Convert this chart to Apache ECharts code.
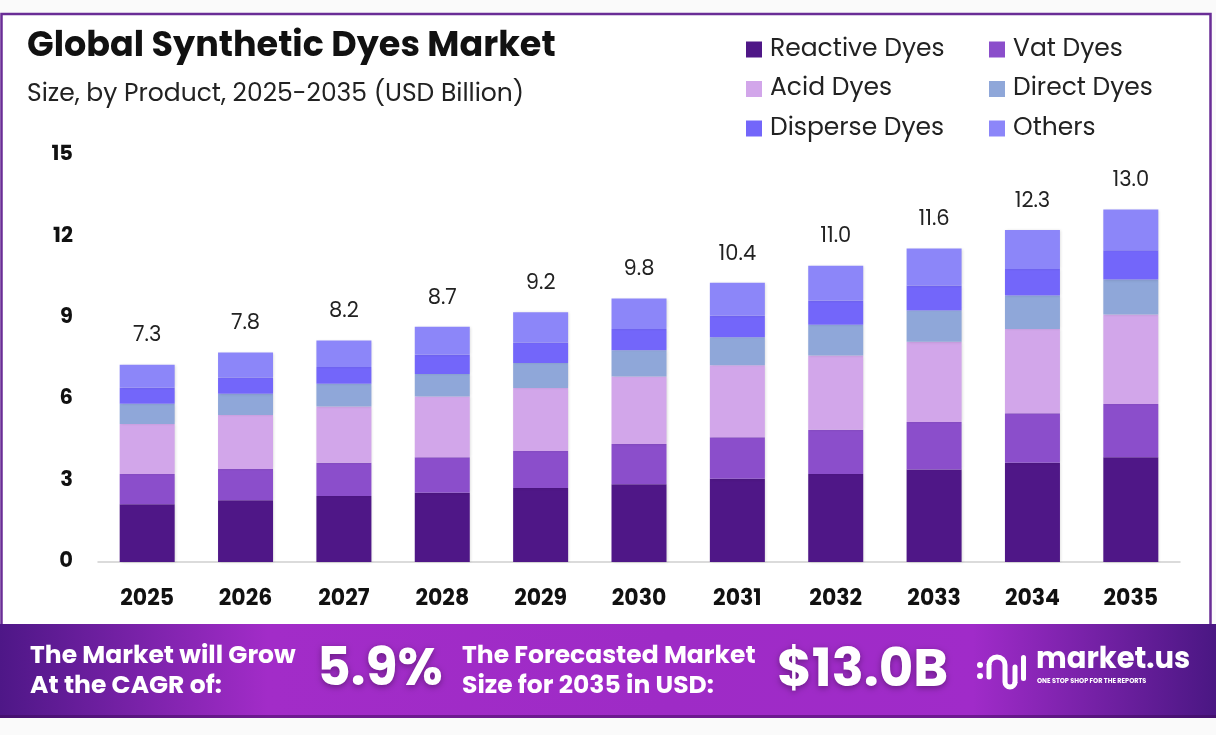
<!DOCTYPE html>
<html>
<head>
<meta charset="utf-8">
<script src="https://cdn.jsdelivr.net/npm/echarts@6/dist/echarts.min.js"></script>
<style>
html,body{margin:0;padding:0;background:#fafafa;}
#chart{width:1216px;height:735px;}
</style>
</head>
<body>
<div id="chart"></div>
<script>
const years = ['2025','2026','2027','2028','2029','2030','2031','2032','2033','2034','2035'];
const seriesNames = ['Reactive Dyes','Vat Dyes','Acid Dyes','Direct Dyes','Disperse Dyes','Others'];
const reactive = [2.13, 2.28, 2.43, 2.55, 2.73, 2.87, 3.07, 3.24, 3.41, 3.66, 3.86];
const vat      = [1.11, 1.15, 1.23, 1.31, 1.36, 1.48, 1.53, 1.63, 1.75, 1.82, 1.96];
const acid     = [1.85, 1.99, 2.07, 2.24, 2.32, 2.49, 2.65, 2.74, 2.96, 3.11, 3.30];
const direct   = [0.74, 0.78, 0.84, 0.83, 0.92, 0.96, 1.03, 1.13, 1.15, 1.23, 1.29];
const disperse = [0.59, 0.60, 0.62, 0.71, 0.76, 0.79, 0.80, 0.89, 0.92, 0.98, 1.08];
const others   = [0.85, 0.92, 0.97, 1.03, 1.11, 1.12, 1.21, 1.29, 1.36, 1.44, 1.50];
const totals   = ['7.3','7.8','8.2','8.7','9.2','9.8','10.4','11.0','11.6','12.3','13.0'];
const yTicks   = [0, 3, 6, 9, 12, 15];
const colors = ['#4f1787','#8b4ecb','#d2a6ea','#8fa7d9','#7366fa','#8c86f9'];
const seriesData = [reactive, vat, acid, direct, disperse, others];

const FONT = 'Poppins, Inter, "Open Sans", sans-serif';
const chart = echarts.init(document.getElementById('chart'));

const series = seriesNames.map((name, i) => ({
  name: name,
  type: 'bar',
  stack: 'total',
  barWidth: 55,
  data: seriesData[i],
  itemStyle: { color: colors[i], shadowBlur: 3, shadowColor: 'rgba(0,0,0,0.15)', shadowOffsetX: 1 },
  label: i === seriesNames.length - 1 ? {
    show: true,
    position: 'top',
    distance: 18,
    fontFamily: FONT,
    fontSize: 21,
    color: '#222',
    formatter: p => totals[p.dataIndex]
  } : { show: false }
}));

const W = '#ffffff';
const option = {
  animation: false,
  backgroundColor: '#fafafa',
  textStyle: { fontFamily: FONT },
  graphic: [
    { type: 'rect', z: -10, shape: { x: 1.5, y: 14, width: 1209, height: 612 },
      style: { fill: '#ffffff', stroke: '#6a2d96', lineWidth: 2.5 } },
    { type: 'rect', z: 10, shape: { x: 0, y: 624, width: 1216, height: 94 },
      style: { fill: new echarts.graphic.LinearGradient(0, 0, 1, 0, [
        { offset: 0, color: '#4e1787' },
        { offset: 0.22, color: '#a22cc8' },
        { offset: 0.55, color: '#9e2bc6' },
        { offset: 0.8, color: '#a02bc9' },
        { offset: 1, color: '#4a1783' }
      ]) } },
    { type: 'rect', z: 11, shape: { x: 0, y: 715, width: 1216, height: 3 },
      style: { fill: 'rgba(60,10,90,0.5)' } },
    { type: 'text', z: 12, x: 30, y: 642,
      style: { text: 'The Market will Grow\nAt the CAGR of:', fill: W, font: 'bold 25px ' + FONT, lineHeight: 30 } },
    { type: 'text', z: 12, x: 317, y: 646,
      style: { text: '5.9%', fill: W, font: 'bold 52px ' + FONT, textShadowBlur: 6, textShadowColor: 'rgba(0,0,0,0.35)', textShadowOffsetY: 2 } },
    { type: 'text', z: 12, x: 462, y: 642,
      style: { text: 'The Forecasted Market\nSize for 2035 in USD:', fill: W, font: 'bold 25px ' + FONT, lineHeight: 30 } },
    { type: 'text', z: 12, x: 777, y: 646,
      style: { text: '$13.0B', fill: W, font: 'bold 53px ' + FONT, textShadowBlur: 6, textShadowColor: 'rgba(0,0,0,0.35)', textShadowOffsetY: 2 } },
    // logo icon
    { type: 'circle', z: 12, shape: { cx: 980, cy: 665, r: 3 }, style: { fill: W } },
    { type: 'circle', z: 12, shape: { cx: 980, cy: 676, r: 3 }, style: { fill: W } },
    { type: 'line', z: 12, shape: { x1: 989, y1: 677, x2: 989, y2: 665 }, style: { stroke: W, lineWidth: 5, lineCap: 'round' } },
    { type: 'arc', z: 12, shape: { cx: 997, cy: 665, r: 8, startAngle: Math.PI, endAngle: 2 * Math.PI }, style: { stroke: W, lineWidth: 5, fill: null } },
    { type: 'line', z: 12, shape: { x1: 1005, y1: 665, x2: 1005, y2: 682 }, style: { stroke: W, lineWidth: 5 } },
    { type: 'arc', z: 12, shape: { cx: 1010, cy: 682, r: 5, startAngle: 0, endAngle: Math.PI, clockwise: true }, style: { stroke: W, lineWidth: 5, fill: null } },
    { type: 'line', z: 12, shape: { x1: 1015, y1: 682, x2: 1015, y2: 667 }, style: { stroke: W, lineWidth: 5, lineCap: 'round' } },
    { type: 'rect', z: 12, shape: { x: 1021, y: 655, width: 5, height: 26, r: 2.5 }, style: { fill: W } },
    { type: 'text', z: 12, x: 1036, y: 646,
      style: { text: 'market.us', fill: W, font: 'bold 29px ' + FONT } },
    { type: 'text', z: 12, x: 1037, y: 678,
      style: { text: 'ONE STOP SHOP FOR THE REPORTS', fill: W, font: 'bold 6.5px ' + FONT } }
  ],
  title: [
    { text: 'Global Synthetic Dyes Market', left: 22, top: 25,
      textStyle: { fontFamily: FONT, fontWeight: 'bold', fontSize: 35, color: '#111' } },
    { text: 'Size, by Product, 2025-2035 (USD Billion)', left: 22, top: 77,
      textStyle: { fontFamily: FONT, fontWeight: 'normal', fontSize: 25, color: '#222' } }
  ],
  legend: [
    { orient: 'vertical', left: 741, top: 32, itemWidth: 16, itemHeight: 16, itemGap: 14.5,
      icon: 'rect', data: ['Reactive Dyes','Acid Dyes','Disperse Dyes'],
      textStyle: { fontFamily: FONT, fontSize: 25, lineHeight: 25, color: '#222', padding: [0,0,0,3] } },
    { orient: 'vertical', left: 984, top: 32, itemWidth: 16, itemHeight: 16, itemGap: 14.5,
      icon: 'rect', data: ['Vat Dyes','Direct Dyes','Others'],
      textStyle: { fontFamily: FONT, fontSize: 25, lineHeight: 25, color: '#222', padding: [0,0,0,3] } }
  ],
  grid: { left: 98, right: 36, top: 155, bottom: 173, containLabel: false },
  xAxis: {
    type: 'category',
    data: years,
    axisLine: { lineStyle: { color: '#cfcfcf', width: 1.5 } },
    axisTick: { show: false },
    axisLabel: { fontFamily: FONT, fontWeight: 'bold', fontSize: 22, color: '#111', margin: 26 }
  },
  yAxis: {
    type: 'value',
    min: yTicks[0],
    max: yTicks[yTicks.length - 1],
    interval: yTicks[1] - yTicks[0],
    splitLine: { show: false },
    axisLine: { show: false },
    axisTick: { show: false },
    axisLabel: { fontFamily: FONT, fontWeight: 'bold', fontSize: 21, color: '#111', margin: 25 }
  },
  series: series
};
chart.setOption(option);
</script>
</body>
</html>
